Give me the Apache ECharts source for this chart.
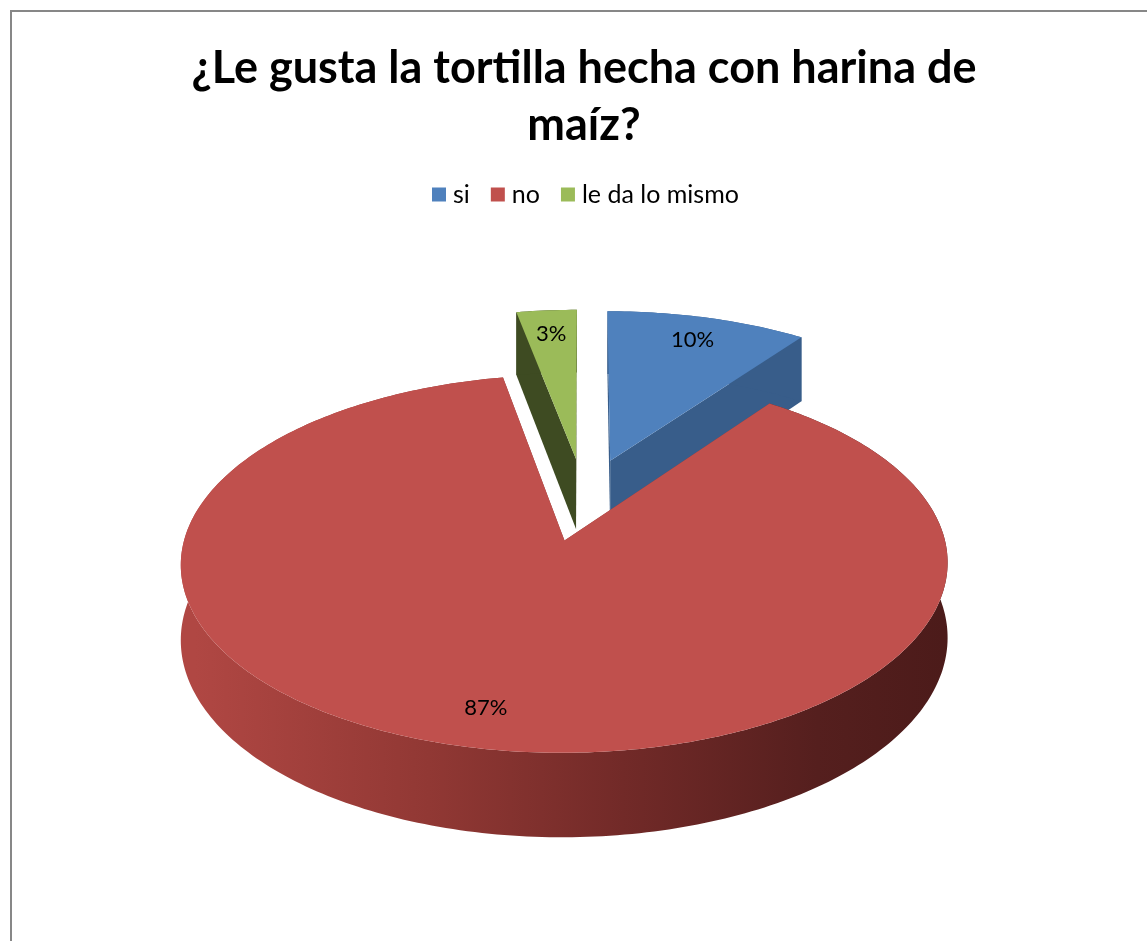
<!DOCTYPE html>
<html>
<head>
<meta charset="utf-8">
<script src="https://cdn.jsdelivr.net/npm/echarts@6/dist/echarts.min.js"></script>
<style>
html,body{margin:0;padding:0;background:#ffffff;}
#chart{width:1147px;height:941px;}
</style>
</head>
<body>
<div id="chart"></div>
<script>
// ---- data ----
const categories = ['si', 'no', 'le da lo mismo'];
const values = [10, 87, 3];
const titleText = '¿Le gusta la tortilla hecha con harina de\nmaíz?';

// ---- styles ----
const topColors = ['#4F81BD', '#C0504D', '#9BBB59'];
const wallColors = ['#385D8A', '#8C3A37', '#3E4B22'];
const FONT = 'Lato, "Open Sans", sans-serif';

// ---- 3D pie projection settings ----
const CX = 584, CY = 499;     // projected centre
const RX = 370, RY = 176;     // radii
const PERSP = 0.12;           // perspective strength
const DEPTH = 72;             // wall height
const EXPLODE = 0.235;        // explosion distance (radius units)
const LABEL_R = 0.83;

const total = values.reduce((a, b) => a + b, 0);
function startAngle(i) {
  let s = 0;
  for (let k = 0; k < i; k++) s += values[k];
  return s / total * Math.PI * 2;
}
function proj(u, v, z) {
  const s = 1 / (1 - PERSP * v);
  return [CX + RX * u * s, CY + (RY * v + DEPTH * z) * s];
}

const redWall = new echarts.graphic.LinearGradient(CX - RX * 1.05, 0, CX + RX * 1.05, 0, [
  { offset: 0, color: '#B04743' },
  { offset: 0.3, color: '#913834' },
  { offset: 0.55, color: '#722A28' },
  { offset: 0.8, color: '#551F1E' },
  { offset: 1, color: '#4A1A19' }
], true);

function makeRender(i) {
  return function (params, api) {
    const val = api.value(0);
    const a0 = startAngle(i);
    const a1 = a0 + val / total * Math.PI * 2;
    const m = (a0 + a1) / 2;
    const ou = EXPLODE * Math.sin(m), ov = -EXPLODE * Math.cos(m);
    const pt = (ang, r, z) => proj(ou + r * Math.sin(ang), ov - r * Math.cos(ang), z);
    const steps = Math.max(4, Math.ceil((a1 - a0) / (Math.PI / 180)));
    const topArc = [], botArc = [];
    for (let k = 0; k <= steps; k++) {
      const ang = a0 + (a1 - a0) * k / steps;
      topArc.push(pt(ang, 1, 0));
      botArc.push(pt(ang, 1, 1));
    }
    const apexT = pt(0, 0, 0), apexB = pt(0, 0, 1);
    const wallFill = (i === 1) ? redWall : wallColors[i];
    const children = [];
    // radial walls
    children.push({ type: 'polygon', z2: 1,
      shape: { points: [apexT, topArc[0], botArc[0], apexB] },
      style: { fill: wallColors[i] } });
    children.push({ type: 'polygon', z2: 1,
      shape: { points: [apexT, topArc[steps], botArc[steps], apexB] },
      style: { fill: wallColors[i] } });
    // outer wall
    children.push({ type: 'polygon', z2: 2,
      shape: { points: topArc.concat(botArc.slice().reverse()) },
      style: { fill: wallFill } });
    // top face
    children.push({ type: 'polygon', z2: 3,
      shape: { points: [apexT].concat(topArc) },
      style: { fill: topColors[i] } });
    // label
    const lp = pt(m, LABEL_R, 0);
    children.push({ type: 'text', z2: 4,
      style: { text: Math.round(val / total * 100) + '%', x: lp[0], y: lp[1],
        align: 'center', verticalAlign: 'middle', fontSize: 22,
        fontFamily: FONT, fill: '#000000' } });
    return { type: 'group', children: children };
  };
}

// drawing order: back slices first
const depthKey = values.map((v, i) => {
  const m = startAngle(i) + v / total * Math.PI;
  return -Math.cos(m);
});
const order = depthKey.map((d, i) => i).sort((a, b) => depthKey[a] - depthKey[b]);

const series = categories.map((name, i) => ({
  type: 'custom',
  name: name,
  coordinateSystem: 'none',
  z: 2 + order.indexOf(i),
  itemStyle: { color: topColors[i] },
  renderItem: makeRender(i),
  data: [[values[i]]],
  silent: true
}));

const chart = echarts.init(document.getElementById('chart'), null, { renderer: 'canvas' });
chart.setOption({
  animation: false,
  backgroundColor: '#ffffff',
  title: {
    text: titleText,
    left: 584,
    top: 40,
    padding: 0,
    textAlign: 'center',
    textStyle: { fontFamily: FONT, fontWeight: 'bold', fontSize: 45, lineHeight: 57, color: '#000000' }
  },
  legend: {
    left: 432,
    top: 182,
    padding: 0,
    icon: 'rect',
    itemWidth: 14,
    itemHeight: 14,
    itemGap: 21,
    textStyle: { fontFamily: FONT, fontSize: 25, color: '#000000', padding: [0, 0, 0, 2] },
    data: categories
  },
  graphic: [{
    type: 'rect',
    shape: { x: 11, y: 11, width: 1160, height: 1000 },
    style: { fill: 'none', stroke: '#878787', lineWidth: 2 },
    silent: true
  }],
  series: series
});
</script>
</body>
</html>
